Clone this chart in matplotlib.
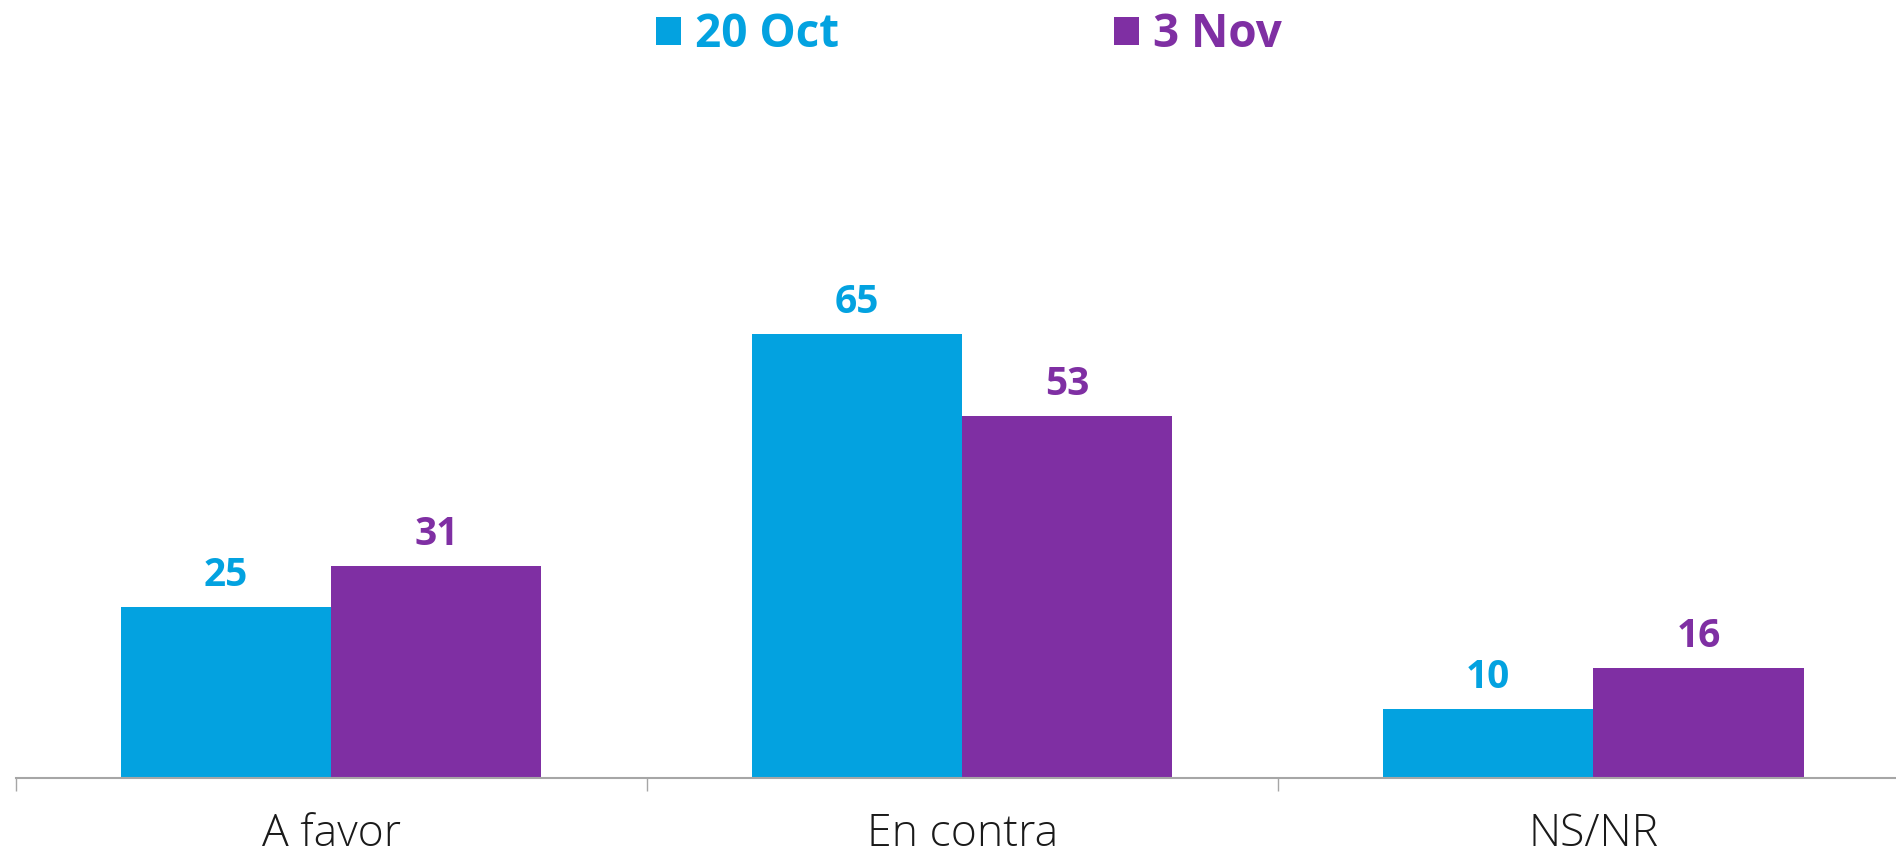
import matplotlib.pyplot as plt
import numpy as np

categories = ["A favor", "En contra", "NS/NR"]
series_names = ["20 Oct", "3 Nov"]
oct20 = [25, 65, 10]
nov3 = [31, 53, 16]
colors = ["#03A2E0", "#7F2FA3"]

plt.rcParams['font.family'] = ['Open Sans', 'DejaVu Sans']

fig = plt.figure(figsize=(18.96, 8.55), dpi=100)
ax = fig.add_axes([0.0083, 0.0906, 0.9985, 0.7975])

x = np.arange(len(categories))
w = 0.333
bars1 = ax.bar(x - w / 2, oct20, w, color=colors[0], label=series_names[0])
bars2 = ax.bar(x + w / 2, nov3, w, color=colors[1], label=series_names[1])

# value labels above bars
for bars, vals, c in [(bars1, oct20, colors[0]), (bars2, nov3, colors[1])]:
    for b, v in zip(bars, vals):
        ax.annotate(str(v), (b.get_x() + b.get_width() / 2, v),
                    xytext=(0, 9), textcoords='offset points',
                    ha='center', va='bottom', fontsize=28,
                    fontweight='bold', color=c)

ax.set_xlim(-0.5, 2.5)
ax.set_ylim(0, 100)
for s in ['top', 'right', 'left']:
    ax.spines[s].set_visible(False)
ax.spines['bottom'].set_color('#A6A6A6')
ax.spines['bottom'].set_linewidth(1.5)
ax.set_yticks([])

# boundary ticks, category labels as minor ticks
ax.set_xticks([-0.5, 0.5, 1.5])
ax.set_xticklabels([])
ax.tick_params(axis='x', which='major', length=9, color='#A6A6A6', width=1)
ax.set_xticks(x, minor=True)
ax.set_xticklabels(categories, minor=True)
ax.tick_params(axis='x', which='minor', length=0, pad=25, labelsize=32)
for t in ax.get_xticklabels(minor=True):
    t.set_fontweight('light')
    t.set_color('#1a1a1a')

leg = fig.legend(loc='upper center', bbox_to_anchor=(0.511, 1.035), ncol=2,
                 frameon=False, handlelength=0.55,
                 handleheight=0.55, handletextpad=0.3, columnspacing=6.0,
                 prop={'weight': 'bold', 'size': 33})
for t, c in zip(leg.get_texts(), colors):
    t.set_color(c)

plt.savefig('out.png', dpi=100)
